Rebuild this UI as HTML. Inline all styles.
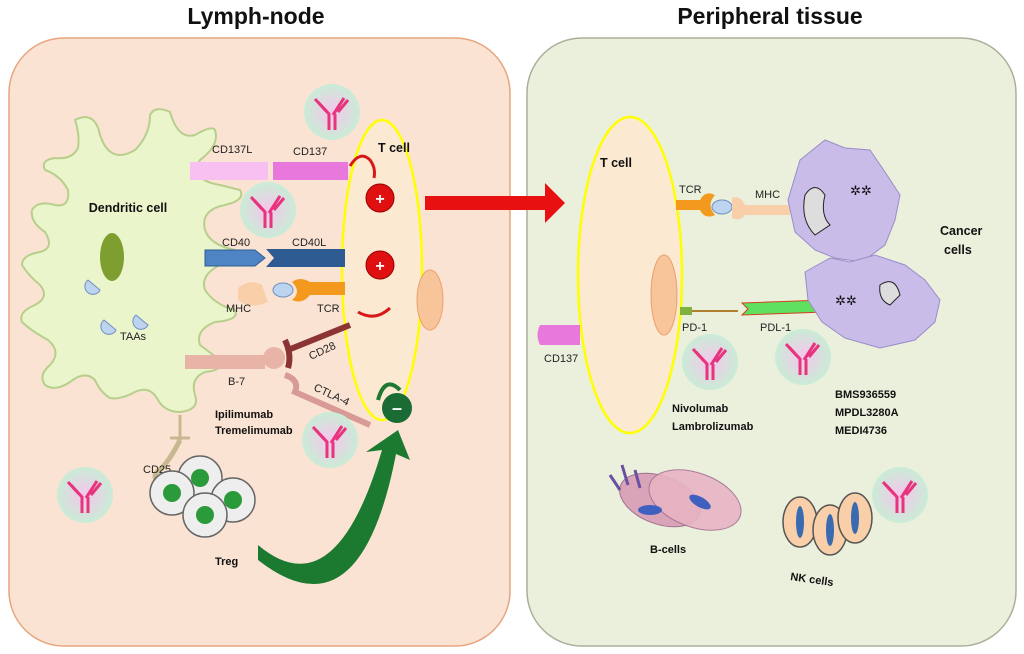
<!DOCTYPE html>
<html><head><meta charset="utf-8"><style>
html,body{margin:0;padding:0;background:#fff;}
svg{display:block;font-family:"Liberation Sans",sans-serif;}
</style></head><body>
<svg width="1024" height="654" viewBox="0 0 1024 654" xmlns="http://www.w3.org/2000/svg">
<defs>
<radialGradient id="ab" cx="50%" cy="50%" r="50%">
<stop offset="0" stop-color="#f6c6ec"/><stop offset="1" stop-color="#c9ecd6"/>
</radialGradient>
<g id="abody">
<circle r="28" fill="url(#ab)"/>
<path d="M-3,18 L-3,2 L-14,-10 M3,18 L3,2 M1,3 L12,-14 M-6,-1 L-17,-13 M6,0 L16,-12" stroke="#e8337f" stroke-width="3" fill="none"/>
</g>
</defs>
<rect width="1024" height="654" fill="#fff"/>
<text x="256" y="24" font-size="23" font-weight="bold" text-anchor="middle" fill="#111">Lymph-node</text>
<text x="770" y="24" font-size="23" font-weight="bold" text-anchor="middle" fill="#111">Peripheral tissue</text>

<rect x="9" y="38" width="501" height="608" rx="55" fill="#fbe3d3" stroke="#e6a57e" stroke-width="1.5"/>
<rect x="527" y="38" width="489" height="608" rx="55" fill="#ebf0dc" stroke="#a9b09a" stroke-width="1.5"/>

<!-- dendritic cell -->
<path d="M75,120 Q95,110 100,135 Q110,165 135,150 Q150,135 150,115 Q155,105 170,112 Q178,140 195,135 Q212,125 215,130 Q220,145 200,160 Q190,180 220,185 L240,190 Q246,200 225,205 Q200,210 205,230 Q210,245 235,250 Q242,262 220,265 Q200,275 205,290 Q215,305 235,310 Q240,320 215,322 Q195,330 200,345 L220,360 Q225,370 205,372 Q190,378 195,395 Q200,410 180,412 Q165,412 158,400 Q150,385 135,392 Q120,400 110,398 Q100,392 95,380 Q85,370 70,382 Q55,392 45,385 Q38,375 50,365 Q62,352 48,340 Q30,330 22,322 Q18,312 35,305 Q50,297 40,285 Q28,275 22,265 Q22,255 40,252 Q55,248 45,232 Q30,222 32,210 Q38,200 55,205 Q70,208 68,190 Q60,175 45,170 Q40,160 55,158 Q72,160 78,148 Q80,135 75,120 Z" fill="#eaf5cc" stroke="#b8cf8c" stroke-width="2"/>
<text x="128" y="212" font-size="12.5" font-weight="bold" text-anchor="middle" fill="#111">Dendritic cell</text>
<ellipse cx="112" cy="257" rx="12" ry="24" fill="#7e9e30"/>
<g fill="#bcd4f0" stroke="#6f8fc0" stroke-width="1">
<path d="M88,280 a8,8 0 1,0 12,10 l-6,-5 z"/>
<path d="M104,320 a8,8 0 1,0 12,10 l-6,-5 z"/>
<path d="M136,315 a8,8 0 1,0 12,10 l-6,-5 z"/>
</g>
<text x="133" y="340" font-size="11" text-anchor="middle" fill="#222">TAAs</text>

<!-- left T cell -->
<ellipse cx="382" cy="270" rx="40" ry="150" fill="#fbe9d2" stroke="#ffff00" stroke-width="2.5"/>
<ellipse cx="430" cy="300" rx="13" ry="30" fill="#f8c59b" stroke="#e8a070"/>
<text x="378" y="152" font-size="12.5" font-weight="bold" fill="#111">T cell</text>

<rect x="190" y="162" width="78" height="18" fill="#f8c0f0"/>
<rect x="273" y="162" width="75" height="18" fill="#e878dc"/>
<text x="212" y="153" font-size="11" fill="#222">CD137L</text>
<text x="293" y="155" font-size="11" fill="#222">CD137</text>
<path d="M350,166 Q360,150 370,160 Q376,168 374,178" stroke="#d81818" stroke-width="3" fill="none"/>
<circle cx="380" cy="198" r="14" fill="#e01010" stroke="#900" stroke-width="1"/>
<text x="380" y="204" font-size="16" font-weight="bold" text-anchor="middle" fill="#fff">+</text>
<path d="M205,250 L255,250 L265,258 L255,266 L205,266 Z" fill="#4f84c4" stroke="#2e5c96"/>
<path d="M266,249 L345,249 L345,267 L266,267 L274,258 Z" fill="#2f5b93"/>
<text x="222" y="246" font-size="11" fill="#222">CD40</text>
<text x="292" y="246" font-size="11" fill="#222">CD40L</text>
<circle cx="380" cy="265" r="14" fill="#e01010" stroke="#900" stroke-width="1"/>
<text x="380" y="271" font-size="16" font-weight="bold" text-anchor="middle" fill="#fff">+</text>
<path d="M238,288 Q250,278 262,285 L268,302 Q250,310 238,300 Z" fill="#f8cfa8"/>
<ellipse cx="283" cy="290" rx="10" ry="7" fill="#bcd4f0" stroke="#6f8fc0"/>
<path d="M292,282 Q300,276 310,282 L345,282 L345,295 L310,295 Q302,305 292,300 Q302,292 292,282 Z" fill="#f39a1e"/>
<text x="226" y="312" font-size="11" fill="#222">MHC</text>
<text x="317" y="312" font-size="11" fill="#222">TCR</text>
<path d="M358,312 Q375,322 390,308" stroke="#d81818" stroke-width="3" fill="none"/>
<rect x="185" y="355" width="80" height="14" fill="#e8b4a8"/>
<circle cx="274" cy="358" r="11" fill="#e8b4a8"/>
<path d="M285,340 Q292,355 288,368 M288,350 L350,325" stroke="#8c3434" stroke-width="6" fill="none"/>
<text x="311" y="360" font-size="11" fill="#222" transform="rotate(-25 311 360)">CD28</text>
<path d="M285,375 Q300,380 295,392 L370,425" stroke="#d79a94" stroke-width="6" fill="none"/>
<text x="313" y="390" font-size="11" fill="#222" transform="rotate(25 313 390)">CTLA-4</text>
<text x="228" y="385" font-size="11" fill="#222">B-7</text>
<circle cx="397" cy="408" r="15" fill="#1b6b34"/>
<text x="397" y="414" font-size="18" font-weight="bold" text-anchor="middle" fill="#fff">–</text>
<path d="M378,400 Q385,375 400,390" stroke="#1b7a30" stroke-width="4" fill="none"/>
<text x="215" y="418" font-size="11" font-weight="bold" fill="#111">Ipilimumab</text>
<text x="215" y="434" font-size="11" font-weight="bold" fill="#111">Tremelimumab</text>

<use href="#abody" x="332" y="112"/>
<use href="#abody" x="268" y="210"/>
<use href="#abody" x="330" y="440"/>
<use href="#abody" x="85" y="495"/>

<path d="M180,415 L180,440 M170,438 L190,438" stroke="#c8b890" stroke-width="3"/>
<path d="M180,440 Q170,460 160,470 Q150,475 160,485" stroke="#c8b890" stroke-width="5" fill="none"/>
<text x="143" y="473" font-size="11" fill="#222">CD25</text>
<g stroke="#666" stroke-width="1.5" fill="#eee">
<circle cx="200" cy="478" r="22"/><circle cx="233" cy="500" r="22"/>
<circle cx="172" cy="493" r="22"/><circle cx="205" cy="515" r="22"/>
</g>
<g fill="#2a9a3a"><circle cx="200" cy="478" r="9"/><circle cx="233" cy="500" r="9"/><circle cx="172" cy="493" r="9"/><circle cx="205" cy="515" r="9"/></g>
<text x="215" y="565" font-size="11" font-weight="bold" fill="#111">Treg</text>
<path d="M258,545 Q335,610 382,450 L366,452 L398,430 L410,460 L396,454 Q360,640 258,560 Z" fill="#1b7a30"/>

<path d="M425,196 L545,196 L545,183 L565,203 L545,223 L545,210 L425,210 Z" fill="#e81010"/>

<ellipse cx="630" cy="275" rx="52" ry="158" fill="#fbe9d2" stroke="#ffff00" stroke-width="2.5"/>
<ellipse cx="664" cy="295" rx="13" ry="40" fill="#f8c59b" stroke="#e8a070"/>
<text x="600" y="167" font-size="12.5" font-weight="bold" fill="#111">T cell</text>
<path d="M540,325 L580,325 L580,345 L540,345 Q535,335 540,325 Z" fill="#e878dc"/>
<text x="544" y="362" font-size="11" fill="#222">CD137</text>
<path d="M676,200 L700,200 Q705,190 715,195 Q706,205 715,215 Q705,220 700,210 L676,210 Z" fill="#f39a1e"/>
<ellipse cx="722" cy="207" rx="10" ry="7" fill="#bcd4f0" stroke="#6f8fc0"/>
<path d="M732,198 Q740,195 745,205 L790,205 L790,215 L745,215 Q740,222 732,218 Z" fill="#f8cfa8"/>
<text x="679" y="193" font-size="11" fill="#222">TCR</text>
<text x="755" y="198" font-size="11" fill="#222">MHC</text>
<rect x="680" y="307" width="12" height="8" fill="#7fb040"/>
<line x1="692" y1="311" x2="738" y2="311" stroke="#b08030" stroke-width="2"/>
<path d="M742,303 L825,300 L825,312 L742,315 L748,309 Z" fill="#5fe05f" stroke="#d04020"/>
<text x="682" y="331" font-size="11" fill="#222">PD-1</text>
<text x="760" y="331" font-size="11" fill="#222">PDL-1</text>
<use href="#abody" x="710" y="362"/>
<use href="#abody" x="803" y="357"/>
<text x="672" y="412" font-size="11" font-weight="bold" fill="#111">Nivolumab</text>
<text x="672" y="430" font-size="11" font-weight="bold" fill="#111">Lambrolizumab</text>
<text x="835" y="398" font-size="11" font-weight="bold" fill="#111">BMS936559</text>
<text x="835" y="416" font-size="11" font-weight="bold" fill="#111">MPDL3280A</text>
<text x="835" y="434" font-size="11" font-weight="bold" fill="#111">MEDI4736</text>

<g fill="#c9bce8" stroke="#9a8cc8" stroke-width="1">
<path d="M800,160 L825,140 L845,148 L870,150 L885,172 L900,195 L895,220 L885,245 L862,262 L835,258 L815,250 L795,232 L788,200 Z"/>
<path d="M805,272 L830,258 L850,262 L875,255 L905,265 L925,280 L940,300 L935,322 L915,340 L880,348 L845,338 L822,322 L808,300 Z"/>
</g>
<g fill="#ddd" stroke="#222"><path d="M805,195 Q815,180 825,195 Q820,215 830,225 L815,235 Q800,220 805,195 Z"/><path d="M880,285 Q895,275 900,295 L890,305 Q878,300 880,285 Z"/></g>
<text x="850" y="195" font-size="13" fill="#111">✲✲</text>
<text x="835" y="305" font-size="13" fill="#111">✲✲</text>
<text x="940" y="235" font-size="12.5" font-weight="bold" fill="#111">Cancer</text>
<text x="944" y="254" font-size="12.5" font-weight="bold" fill="#111">cells</text>

<ellipse cx="660" cy="500" rx="42" ry="24" fill="#d9a4b8" stroke="#a07090" transform="rotate(20 660 500)"/>
<ellipse cx="695" cy="500" rx="48" ry="27" fill="#e8b4c4" stroke="#a07090" opacity="0.9" transform="rotate(20 695 500)"/>
<ellipse cx="650" cy="510" rx="12" ry="5" fill="#4060c0"/>
<ellipse cx="700" cy="502" rx="12" ry="5" fill="#4060c0" transform="rotate(30 700 502)"/>
<path d="M610,475 L620,490 M622,465 L628,485 M635,470 L640,488" stroke="#6a50a0" stroke-width="3"/>
<text x="650" y="553" font-size="11" font-weight="bold" fill="#111">B-cells</text>
<g fill="#f8cfa8" stroke="#555" stroke-width="1.5">
<ellipse cx="800" cy="522" rx="17" ry="25"/><ellipse cx="830" cy="530" rx="17" ry="25"/><ellipse cx="855" cy="518" rx="17" ry="25"/>
</g>
<g fill="#3a6ab0"><ellipse cx="800" cy="522" rx="4" ry="16"/><ellipse cx="830" cy="530" rx="4" ry="16"/><ellipse cx="855" cy="518" rx="4" ry="16"/></g>
<text x="790" y="580" font-size="11" font-weight="bold" fill="#111" transform="rotate(8 790 580)">NK cells</text>
<use href="#abody" x="900" y="495"/>
</svg>
</body></html>
